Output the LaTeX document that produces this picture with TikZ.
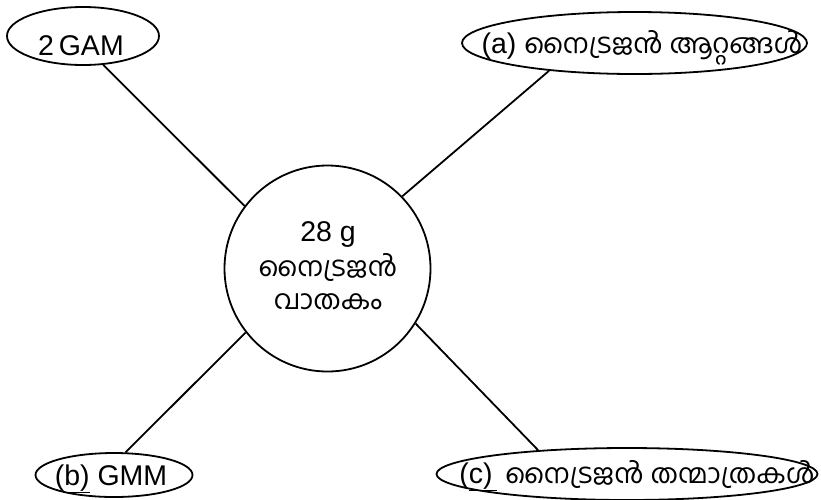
\documentclass[tikz,border=0pt]{standalone}
\usepackage{fontspec}
\setmainfont{Liberation Sans}
\newfontfamily\mal[Script=Malayalam,Scale=0.95]{Hind Kochi}
\usetikzlibrary{shapes.geometric}
\tikzset{every path/.style={black,line width=1.8pt}, oval/.style={draw, ellipse, inner sep=0pt}, ring/.style={draw, circle, inner sep=0pt, minimum size=206pt}, lbl/.style={anchor=base, inner sep=0pt, font=\fontsize{28.5}{32}\selectfont}}

\begin{document}
\begin{tikzpicture}[x=1pt,y=-1pt]
   \useasboundingbox (0,0) rectangle (821,499);
   \node[ring] (gas) at (327.5,268.5) {};
   \node[oval, minimum width=152pt, minimum height=58pt] (gam) at (83,36) {};
   \node[oval, minimum width=345pt, minimum height=62pt] (atoms) at (634.5,43) {};
   \node[oval, minimum width=157pt, minimum height=44pt] (gmm) at (114,475) {};
   \node[oval, minimum width=381pt, minimum height=52pt] (mols) at (627,474) {};

   \node[lbl] (gamtxt) at (81,55) {2\,GAM};
   \node[lbl] (atomstxt) at (642,53) {(a) {\mal നൈട്രജൻ ആറ്റങ്ങൾ}};
   \node[lbl] (gmmtxt) at (111,485) {(\underline{b)} GMM};
   \node[lbl] (molstxt) at (637,483) {(\underline{c)\,} {\mal നൈട്രജൻ തന്മാത്രകൾ}};
   \node[lbl] (gastxt1) at (328,241) {28 g};
   \node[lbl] (gastxt2) at (328,276) {\mal നൈട്രജൻ};
   \node[lbl] (gastxt3) at (328,309) {\mal വാതകം};

   \draw (gam.-55) -- (gas.143);
   \draw (atoms.-162) -- (gas.44);
   \draw (gmm.63) -- (gas.218);
   \draw (mols.165) -- (gas.328);
\end{tikzpicture}
\end{document}
